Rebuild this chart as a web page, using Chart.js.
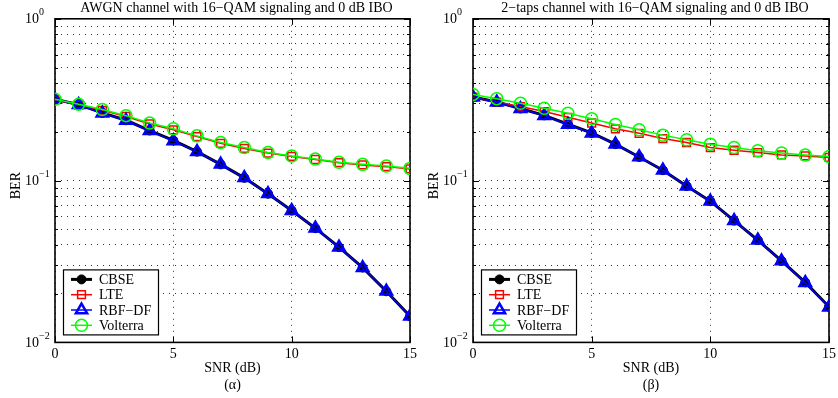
<!DOCTYPE html>
<html>
<head>
<meta charset="utf-8">
<script src="https://cdn.jsdelivr.net/npm/chart.js@4.4.1/dist/chart.umd.min.js"></script>
<style>
  html, body { margin: 0; padding: 0; background: #fff; overflow: hidden; }
  .panel { position: absolute; top: 0; height: 398px; }
  #left { left: 0; width: 422px; }
  #right { left: 418px; width: 423px; }
</style>
</head>
<body>
<div class="panel" id="left"><canvas id="chartA"></canvas></div>
<div class="panel" id="right"><canvas id="chartB"></canvas></div>
<script>
// SNR points (dB)
const snr = [0, 1, 2, 3, 4, 5, 6, 7, 8, 9, 10, 11, 12, 13, 14, 15];

// (α) AWGN channel
const awgnCbse     = [0.318, 0.295, 0.262, 0.236, 0.204, 0.177, 0.151, 0.126, 0.104, 0.0830, 0.0653, 0.0508, 0.0388, 0.0290, 0.0207, 0.0145];
const awgnLte      = [0.315, 0.293, 0.272, 0.249, 0.224, 0.206, 0.187, 0.170, 0.158, 0.148, 0.141, 0.135, 0.129, 0.125, 0.122, 0.118];
const awgnRbf      = [0.317, 0.294, 0.261, 0.235, 0.203, 0.176, 0.151, 0.126, 0.104, 0.0828, 0.0652, 0.0508, 0.0387, 0.0289, 0.0207, 0.0145];
const awgnVolterra = [0.318, 0.296, 0.275, 0.252, 0.227, 0.209, 0.189, 0.172, 0.160, 0.149, 0.142, 0.136, 0.130, 0.126, 0.123, 0.119];

// (β) 2-taps channel
const tapsCbse     = [0.329, 0.306, 0.279, 0.253, 0.223, 0.197, 0.168, 0.140, 0.116, 0.0925, 0.0746, 0.0566, 0.0429, 0.0319, 0.0235, 0.0166];
const tapsLte      = [0.328, 0.305, 0.287, 0.267, 0.246, 0.227, 0.209, 0.196, 0.182, 0.172, 0.160, 0.154, 0.149, 0.144, 0.142, 0.139];
const tapsRbf      = [0.328, 0.305, 0.278, 0.252, 0.222, 0.196, 0.168, 0.140, 0.116, 0.0924, 0.0745, 0.0565, 0.0428, 0.0318, 0.0234, 0.0165];
const tapsVolterra = [0.341, 0.321, 0.301, 0.280, 0.261, 0.241, 0.222, 0.206, 0.191, 0.179, 0.168, 0.160, 0.153, 0.148, 0.144, 0.141];

const seriesNames = ['CBSE', 'LTE', 'RBF\u2212DF', 'Volterra'];
const xTicks = [0, 5, 10, 15];
const yDecades = [1, 0.1, 0.01];
const yExponents = ['0', '\u22121', '\u22122'];

const SERIF = "'Liberation Serif', 'Times New Roman', serif";

function toPoints(values) {
    return snr.map((s, i) => ({ x: s, y: values[i] }));
}

function makeDatasets(cbse, lte, rbf, volterra) {
    return [
        { label: seriesNames[0], data: toPoints(cbse), borderColor: '#000', backgroundColor: '#000',
          borderWidth: 3, pointStyle: 'circle', pointRadius: 4.5, pointBorderWidth: 1, order: 4 },
        { label: seriesNames[1], data: toPoints(lte), borderColor: '#ff0000', backgroundColor: 'rgba(0,0,0,0)',
          borderWidth: 1.5, pointStyle: 'rect', pointRadius: 5.5, pointBorderWidth: 1.5, order: 3 },
        { label: seriesNames[2], data: toPoints(rbf), borderColor: '#0000ff', backgroundColor: 'rgba(0,0,0,0)',
          borderWidth: 1.5, pointStyle: 'triangle', pointRadius: 6.5, pointBorderWidth: 2.5, order: 2 },
        { label: seriesNames[3], data: toPoints(volterra), borderColor: '#00ff00', backgroundColor: 'rgba(0,0,0,0)',
          borderWidth: 1.5, pointStyle: 'circle', pointRadius: 6, pointBorderWidth: 1.5, order: 1 }
    ];
}

// axes box, inward ticks, y labels and BER text
const matlabAxes = {
    id: 'matlabAxes',
    beforeDatasetsDraw(chart) {
        const ctx = chart.ctx;
        const a = chart.chartArea;
        const yScale = chart.scales.y;
        const xScale = chart.scales.x;
        ctx.save();
        ctx.strokeStyle = '#000';
        ctx.lineWidth = 1;
        // minor ticks on y
        yScale.ticks.forEach(t => {
            const y = Math.round(yScale.getPixelForValue(t.value)) + 0.5;
            const len = yDecades.includes(t.value) ? 6 : 3;
            ctx.beginPath();
            ctx.moveTo(a.left, y); ctx.lineTo(a.left + len, y);
            ctx.moveTo(a.right, y); ctx.lineTo(a.right - len, y);
            ctx.stroke();
        });
        xTicks.forEach(v => {
            const x = Math.round(xScale.getPixelForValue(v)) + 0.5;
            ctx.beginPath();
            ctx.moveTo(x, a.bottom); ctx.lineTo(x, a.bottom - 6);
            ctx.moveTo(x, a.top); ctx.lineTo(x, a.top + 6);
            ctx.stroke();
        });
        ctx.lineWidth = 1.6;
        ctx.strokeRect(a.left, a.top, a.right - a.left, a.bottom - a.top);

        // y tick labels 10^n
        ctx.fillStyle = '#000';
        yDecades.forEach((v, i) => {
            const y = yScale.getPixelForValue(v);
            ctx.font = '14px ' + SERIF;
            ctx.textAlign = 'right';
            ctx.textBaseline = 'middle';
            ctx.fillText('10', a.left - 16, y + 1);
            ctx.font = '10px ' + SERIF;
            ctx.textAlign = 'left';
            ctx.fillText(yExponents[i], a.left - 16, y - 6);
        });
        // BER label
        ctx.font = '14px ' + SERIF;
        ctx.translate(16, (a.top + a.bottom) / 2 + 5);
        ctx.rotate(-Math.PI / 2);
        ctx.textAlign = 'center';
        ctx.textBaseline = 'middle';
        ctx.fillText('BER', 0, 0);
        ctx.restore();
    }
};

// legend drawn inside the axes, lower left
const insideLegend = {
    id: 'insideLegend',
    afterDatasetsDraw(chart) {
        const ctx = chart.ctx;
        const a = chart.chartArea;
        const bx = a.left + 8, by = a.bottom - 73, bw = 95, bh = 65;
        ctx.save();
        ctx.fillStyle = '#fff';
        ctx.fillRect(bx, by, bw, bh);
        ctx.strokeStyle = '#000';
        ctx.lineWidth = 1.2;
        ctx.strokeRect(bx + 0.5, by + 0.5, bw, bh);
        chart.data.datasets.forEach((ds, i) => {
            const y = by + 10 + i * 15.3;
            ctx.strokeStyle = ds.borderColor;
            ctx.lineWidth = ds.borderWidth;
            ctx.beginPath();
            ctx.moveTo(bx + 8, y);
            ctx.lineTo(bx + 29, y);
            ctx.stroke();
            ctx.fillStyle = ds.backgroundColor;
            ctx.lineWidth = ds.pointBorderWidth;
            Chart.helpers.drawPoint(ctx, {
                pointStyle: ds.pointStyle,
                radius: ds.pointRadius,
                rotation: 0,
                borderWidth: ds.pointBorderWidth
            }, bx + 18.5, y);
            ctx.fillStyle = '#000';
            ctx.font = '14px ' + SERIF;
            ctx.textAlign = 'left';
            ctx.textBaseline = 'middle';
            ctx.fillText(ds.label, bx + 36, y + 1);
        });
        ctx.restore();
    }
};

function makeChart(canvasId, titleText, subLabel, datasets) {
    return new Chart(document.getElementById(canvasId), {
        type: 'line',
        data: { datasets: datasets },
        options: {
            responsive: true,
            maintainAspectRatio: false,
            animation: false,
            layout: { padding: { left: 55, right: 4, top: 0, bottom: 4 } },
            elements: { line: { tension: 0 } },
            plugins: {
                legend: { display: false },
                tooltip: { enabled: false },
                title: {
                    display: true,
                    text: titleText,
                    color: '#000',
                    font: { family: SERIF, size: 14, weight: 'normal' },
                    padding: { top: 0, bottom: 2 }
                }
            },
            scales: {
                x: {
                    type: 'linear',
                    min: 0,
                    max: 15,
                    afterBuildTicks: axis => { axis.ticks = xTicks.map(v => ({ value: v })); },
                    ticks: { color: '#000', padding: 5, font: { family: SERIF, size: 14, lineHeight: 1 } },
                    grid: { color: '#333', lineWidth: 1, drawTicks: false },
                    border: { display: false, dash: [1, 5] },
                    title: {
                        display: true,
                        text: ['SNR (dB)', subLabel],
                        color: '#000',
                        font: { family: SERIF, size: 14, lineHeight: 1.2 },
                        padding: { top: -6, bottom: 0 }
                    }
                },
                y: {
                    type: 'logarithmic',
                    min: 0.01,
                    max: 1,
                    afterBuildTicks: axis => {
                        const t = [];
                        [0.01, 0.1].forEach(d => {
                            for (let k = 1; k < 10; k++) t.push({ value: +(d * k).toPrecision(3) });
                        });
                        t.push({ value: 1 });
                        axis.ticks = t;
                    },
                    ticks: { display: false },
                    grid: { color: '#333', lineWidth: 1, drawTicks: false },
                    border: { display: false, dash: [1, 5] }
                }
            }
        },
        plugins: [matlabAxes, insideLegend]
    });
}

makeChart('chartA', 'AWGN channel with 16\u2212QAM signaling and 0 dB IBO', '(\u03b1)',
    makeDatasets(awgnCbse, awgnLte, awgnRbf, awgnVolterra));
makeChart('chartB', '2\u2212taps channel with 16\u2212QAM signaling and 0 dB IBO', '(\u03b2)',
    makeDatasets(tapsCbse, tapsLte, tapsRbf, tapsVolterra));
</script>
</body>
</html>
